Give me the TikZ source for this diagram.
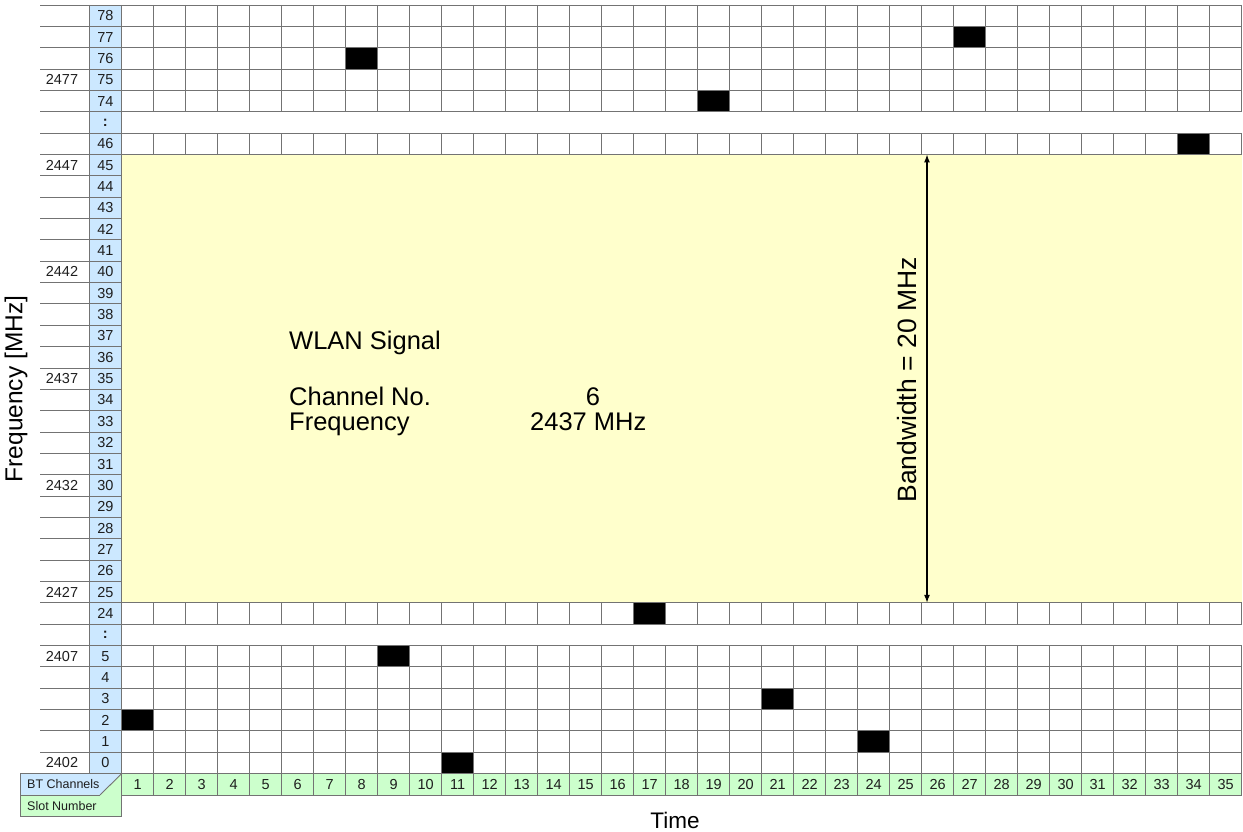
\documentclass[tikz,border=0pt]{standalone}
\usepackage{fontspec}
\setmainfont{Liberation Sans}
\usetikzlibrary{arrows.meta}
\definecolor{cblue}{RGB}{204,232,255}
\definecolor{cgreen}{RGB}{204,255,204}
\definecolor{cyellow}{RGB}{255,255,204}
\definecolor{cline}{RGB}{115,115,115}
\definecolor{ctext}{RGB}{30,30,30}
\begin{document}
\begin{tikzpicture}[x=1pt,y=-1pt,
  gridline/.style={draw=cline,line width=0.9pt},
  numtext/.style={inner sep=0pt,text=ctext,font=\fontsize{14.5}{15}\selectfont},
  smalltext/.style={inner sep=0pt,text=ctext,font=\fontsize{12.5}{13}\selectfont},
  bigtext/.style={inner sep=0pt,text=black,font=\fontsize{25.5}{27}\selectfont},
  axistext/.style={inner sep=0pt,text=black,font=\fontsize{24.5}{26}\selectfont}]
\useasboundingbox (0,0) rectangle (1243,832);
\begin{scope}[shift={(121.7pt,-5pt)},x=32pt,y=-21.35pt]
  % fills
  \fill[cblue] (-1.022,0) rectangle (0,36);
  \fill[cyellow] (0,7) rectangle (35,28);
  \fill[cgreen] (0,36) rectangle (35,37);
  \fill[cblue] (-3.178,36) -- (0,36) -- (-0.678,37) -- (-3.178,37) -- cycle;
  \fill[cgreen] (-3.178,37) -- (-0.678,37) -- (0,36) -- (0,38) -- (-3.178,38) -- cycle;
  % occupied slots
  \foreach \c/\r in {8/2,27/1,19/4,34/6,17/28,9/30,21/32,1/33,24/34,11/35}
    \fill[black] (\c-1,\r) rectangle (\c,\r+1);
  % horizontal lines
  \foreach \i in {0,...,7,28,29,...,35}
    \draw[gridline] (-2.553,\i) -- (35,\i);
  \foreach \i in {8,...,27}
    \draw[gridline] (-2.553,\i) -- (0,\i);
  \draw[gridline] (-3.178,36) -- (35,36);
  \draw[gridline] (0,37) -- (35,37);
  \draw[gridline] (-3.178,37) -- (-0.678,37);
  \draw[gridline] (-3.178,38) -- (0,38);
  % vertical lines
  \draw[gridline] (-1.022,0) -- (-1.022,36);
  \draw[gridline] (0,0) -- (0,38);
  \draw[gridline] (-3.178,36) -- (-3.178,38);
  \draw[gridline] (-0.678,37) -- (0,36);
  \foreach \c in {1,...,35}{
    \draw[gridline] (\c,0) -- (\c,5);
    \draw[gridline] (\c,6) -- (\c,7);
    \draw[gridline] (\c,28) -- (\c,29);
    \draw[gridline] (\c,30) -- (\c,37);
  }
  % channel labels
  \foreach \i/\t in {0/78,1/77,2/76,3/75,4/74,5/{\textbf{:}},6/46,29/{\textbf{:}},30/5,31/4,32/3,33/2,34/1,35/0}
    \node[numtext] (ch\i) at (-0.511,\i+0.5) {\t};
  \foreach \i in {7,...,28}{
    \pgfmathtruncatemacro{\lab}{52-\i}
    \node[numtext] (ch\i) at (-0.511,\i+0.5) {\lab};
  }
  % frequency labels
  \foreach \i/\t in {3/2477,7/2447,12/2442,17/2437,22/2432,27/2427,30/2407,35/2402}
    \node[numtext] (fr\i) at (-1.866,\i+0.5) {\t};
  % slot numbers
  \foreach \c in {1,...,35}
    \node[numtext] (sl\c) at (\c-0.5,36.5) {\c};
  \node[smalltext,anchor=west] (btch) at (-2.959,36.5) {BT Channels};
  \node[smalltext,anchor=west] (slnum) at (-2.959,37.5) {Slot Number};
\end{scope}
% WLAN text
\node[bigtext,anchor=base west] (wlan) at (289,349) {WLAN Signal};
\node[bigtext,anchor=base west] (chno) at (289,405) {Channel No.};
\node[bigtext,anchor=base] (chval) at (593,405) {6};
\node[bigtext,anchor=base west] (freq) at (289,430) {Frequency};
\node[bigtext,anchor=base west] (freqval) at (530,430) {2437 MHz};
% bandwidth arrow
\coordinate (bwtop) at (927,154.45);
\coordinate (bwbot) at (927,602.8);
\draw[{Latex[length=8pt,width=6pt]}-{Latex[length=8pt,width=6pt]},line width=1.2pt] (bwtop) -- (bwbot);
\node[bigtext,rotate=90,font=\fontsize{26.5}{28}\selectfont] (bw) at (907,380) {Bandwidth = 20 MHz};
% axes
\node[axistext,rotate=90] (yax) at (16,389) {Frequency [MHz]};
\node[axistext,font=\fontsize{22.5}{24}\selectfont] (xax) at (675,820) {Time};
\end{tikzpicture}
\end{document}
